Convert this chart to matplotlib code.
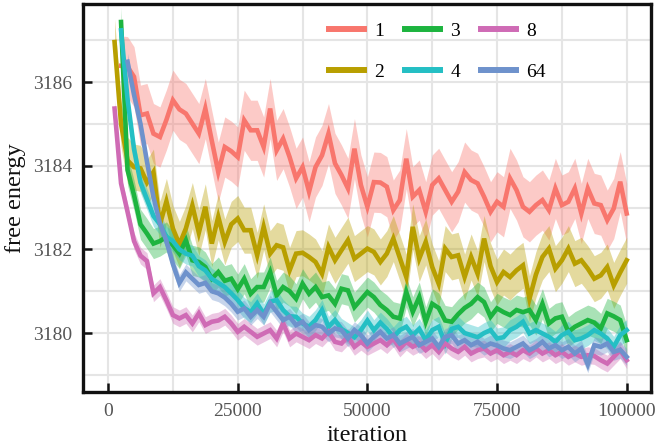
import numpy as np
import matplotlib
matplotlib.use("Agg")
import matplotlib.pyplot as plt

plt.rcParams['font.family'] = ['Liberation Serif', 'DejaVu Serif']

# iterations are logged every 1250 steps
iters = np.arange(1250, 100001, 1250)

labels = ["1", "2", "3", "4", "8", "64"]
colors = ["#F8766D", "#B89F00", "#1DB43F", "#24BFC4", "#CF6BB5", "#6E92CC"]
first_idx = [1, 0, 1, 1, 0, 2]   # index into iters where each run starts
spread = [0.72, 0.55, 0.36, 0.25, 0.20, 0.20]

fe_1 = [3186.39, 3186.37, 3186.13, 3185.21, 3185.25, 3184.77, 3184.69, 3185.10, 3185.57, 3185.35,
        3185.25, 3185.01, 3184.77, 3185.37, 3184.60, 3183.85, 3184.45, 3184.35, 3184.21, 3185.09,
        3184.85, 3184.85, 3184.45, 3185.37, 3184.37, 3184.65, 3184.21, 3183.70, 3183.97, 3183.38,
        3183.97, 3184.25, 3184.77, 3184.06, 3183.78, 3183.46, 3184.41, 3183.54, 3183.02, 3183.61,
        3183.60, 3183.50, 3182.94, 3183.18, 3184.17, 3183.26, 3183.42, 3182.90, 3183.54, 3183.70,
        3183.42, 3183.14, 3183.38, 3183.85, 3183.66, 3183.58, 3183.26, 3182.90, 3183.14, 3183.02,
        3183.70, 3183.42, 3183.02, 3182.90, 3183.06, 3183.18, 3182.94, 3183.46, 3183.06, 3183.14,
        3183.46, 3182.86, 3183.46, 3183.10, 3183.06, 3182.70, 3182.98, 3183.62, 3182.86]

fe_2 = [3186.96, 3185.00, 3184.13, 3183.97, 3183.94, 3183.60, 3183.85, 3182.60, 3183.15, 3182.50,
        3182.12, 3182.50, 3183.05, 3182.40, 3183.02, 3182.14, 3182.78, 3182.18, 3182.60, 3182.74,
        3182.46, 3182.46, 3181.86, 3182.54, 3181.90, 3182.10, 3182.05, 3181.50, 3181.90, 3181.92,
        3181.82, 3181.70, 3181.42, 3182.06, 3181.74, 3181.98, 3182.22, 3181.78, 3181.90, 3182.02,
        3181.94, 3181.70, 3181.90, 3182.26, 3181.80, 3181.34, 3182.54, 3181.78, 3182.18, 3181.58,
        3181.18, 3182.02, 3181.82, 3181.86, 3181.34, 3181.82, 3181.42, 3182.26, 3181.60, 3181.22,
        3181.46, 3181.34, 3181.50, 3181.62, 3180.82, 3181.40, 3181.82, 3182.02, 3181.54, 3181.74,
        3182.02, 3181.66, 3181.74, 3181.54, 3181.30, 3181.38, 3181.58, 3181.14, 3181.45, 3181.74]

fe_3 = [3187.44, 3183.90, 3183.30, 3182.60, 3182.38, 3182.14, 3182.20, 3182.30, 3182.10, 3181.90,
        3182.22, 3181.74, 3181.70, 3181.58, 3181.30, 3181.46, 3181.25, 3181.30, 3181.05, 3181.30,
        3180.94, 3181.10, 3181.10, 3181.46, 3180.90, 3181.10, 3181.00, 3180.82, 3181.18, 3180.94,
        3181.10, 3180.86, 3180.90, 3180.70, 3181.06, 3181.02, 3180.62, 3180.80, 3180.98, 3180.86,
        3180.67, 3180.55, 3180.39, 3180.35, 3180.98, 3180.51, 3180.86, 3180.27, 3180.70, 3180.60,
        3180.30, 3180.27, 3180.45, 3180.60, 3180.70, 3180.86, 3180.74, 3180.39, 3180.59, 3180.50,
        3180.43, 3180.55, 3180.50, 3180.55, 3180.31, 3180.70, 3180.23, 3180.35, 3180.39, 3180.03,
        3180.15, 3180.23, 3180.31, 3180.25, 3180.11, 3180.47, 3180.40, 3180.31, 3179.83]

fe_4 = [3187.24, 3185.60, 3184.40, 3183.60, 3183.20, 3182.80, 3182.60, 3182.30, 3182.20, 3182.00,
        3181.90, 3181.85, 3181.60, 3181.50, 3181.30, 3181.20, 3181.10, 3180.95, 3180.79, 3180.60,
        3180.50, 3180.71, 3180.45, 3180.75, 3180.79, 3180.55, 3180.40, 3180.39, 3180.23, 3180.15,
        3180.31, 3180.55, 3180.15, 3180.31, 3180.10, 3180.00, 3179.90, 3180.07, 3180.30, 3180.07,
        3180.25, 3180.10, 3179.90, 3180.07, 3180.15, 3179.95, 3180.10, 3179.83, 3180.07, 3180.15,
        3179.75, 3180.10, 3180.15, 3180.00, 3179.95, 3179.90, 3180.00, 3180.07, 3179.87, 3179.90,
        3180.07, 3180.15, 3180.27, 3179.99, 3180.07, 3179.99, 3179.91, 3179.79, 3179.95, 3180.03,
        3179.83, 3179.87, 3179.95, 3180.07, 3179.99, 3179.87, 3179.67, 3179.95, 3180.07]

fe_8 = [3185.37, 3183.58, 3182.90, 3182.20, 3181.85, 3181.72, 3180.95, 3181.10, 3180.78, 3180.43,
        3180.35, 3180.43, 3180.23, 3180.47, 3180.19, 3180.27, 3180.30, 3180.39, 3180.23, 3180.03,
        3180.15, 3180.03, 3179.91, 3179.99, 3180.07, 3179.87, 3180.23, 3179.87, 3179.99, 3179.91,
        3179.83, 3179.95, 3179.87, 3180.03, 3179.79, 3179.75, 3179.91, 3179.67, 3179.79, 3179.67,
        3179.75, 3179.83, 3179.71, 3179.87, 3179.63, 3179.79, 3179.67, 3179.75, 3179.59, 3179.71,
        3179.55, 3179.75, 3179.63, 3179.55, 3179.67, 3179.51, 3179.59, 3179.63, 3179.51, 3179.59,
        3179.47, 3179.55, 3179.47, 3179.59, 3179.51, 3179.63, 3179.51, 3179.59, 3179.47, 3179.55,
        3179.43, 3179.51, 3179.43, 3179.47, 3179.45, 3179.35, 3179.27, 3179.43, 3179.59, 3179.35]

fe_64 = [3186.49, 3185.70, 3185.00, 3184.10, 3183.25, 3182.62, 3182.20, 3181.65, 3181.20, 3181.45,
         3181.30, 3181.15, 3181.20, 3181.00, 3180.95, 3180.85, 3180.70, 3180.51, 3180.59, 3180.39,
         3180.55, 3180.39, 3180.71, 3180.51, 3180.31, 3180.39, 3180.19, 3180.27, 3180.07, 3180.19,
         3180.15, 3179.99, 3180.11, 3180.07, 3179.87, 3180.07, 3179.95, 3179.75, 3179.91, 3180.03,
         3179.87, 3179.95, 3179.75, 3179.83, 3179.91, 3179.71, 3179.79, 3179.87, 3179.67, 3179.91,
         3179.95, 3179.75, 3179.83, 3179.71, 3179.79, 3179.67, 3179.75, 3179.70, 3179.63, 3179.59,
         3179.67, 3179.75, 3179.59, 3179.67, 3179.79, 3179.63, 3179.71, 3179.59, 3179.67, 3179.51,
         3179.63, 3179.25, 3179.71, 3179.67, 3179.75, 3179.55, 3179.60, 3179.43]

runs = [fe_1, fe_2, fe_3, fe_4, fe_8, fe_64]

xticks = [0, 25000, 50000, 75000, 100000]
xtick_labels = ["0", "25000", "50000", "75000", "100000"]
yticks = [3180, 3182, 3184, 3186]
ytick_labels = ["3180", "3182", "3184", "3186"]

fig = plt.figure(figsize=(6.55, 4.47), dpi=100)
ax = fig.add_axes([0.127, 0.124, 0.867, 0.867])

for lab, col, i0, sd, fe in zip(labels, colors, first_idx, spread, runs):
    x = iters[i0:i0 + len(fe)]
    y = np.array(fe)
    ax.fill_between(x, y - sd, y + sd, color=col, alpha=0.38, lw=0)
    ax.plot(x, y, color=col, lw=3.3, label=lab, solid_joinstyle='miter')

ax.set_xlim(-4800, 104700)
ax.set_ylim(3178.6, 3187.87)
ax.set_xticks(xticks)
ax.set_xticklabels(xtick_labels)
ax.set_yticks(yticks)
ax.set_yticklabels(ytick_labels)
ax.set_xticks([12500, 37500, 62500, 87500], minor=True)
ax.set_yticks([3179, 3181, 3183, 3185, 3187], minor=True)

ax.grid(True, which='both', color='#E5E5E5', lw=1.5)
ax.set_axisbelow(True)
for s in ax.spines.values():
    s.set_linewidth(2.4)
    s.set_color('#111111')
ax.tick_params(which='major', direction='in', length=6.5, width=1.8, color='#111111',
               labelsize=14, labelcolor='#555555', pad=8)
ax.tick_params(which='minor', length=0)

ax.set_xlabel("iteration", fontsize=17.5, color='#111111', labelpad=4)
ax.set_ylabel("free energy", fontsize=17.5, color='#111111', labelpad=5)

leg = ax.legend(ncol=3, loc='upper left', bbox_to_anchor=(0.405, 0.992), frameon=False,
                fontsize=14, handlelength=1.8, handletextpad=0.55, columnspacing=1.05,
                labelspacing=1.2, borderpad=0.3)
for ln in leg.get_lines():
    ln.set_linewidth(4.3)

fig.savefig("out.png", dpi=100)
